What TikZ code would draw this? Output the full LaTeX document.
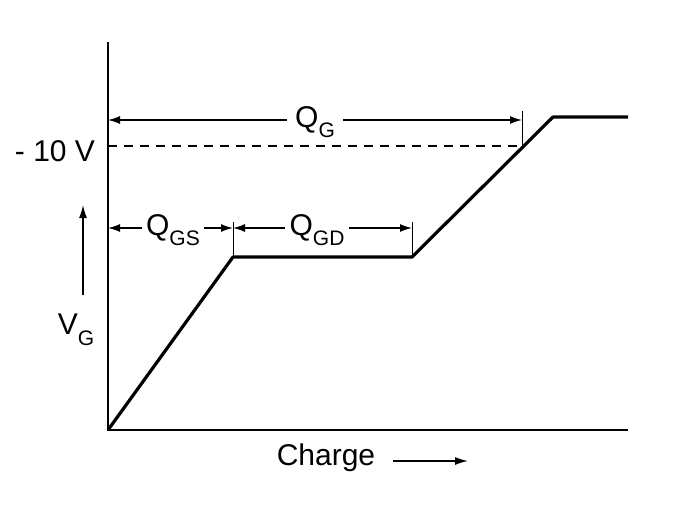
\documentclass[tikz,border=0pt]{standalone}
\usepackage{fontspec}
\setmainfont{Liberation Sans}
\usetikzlibrary{arrows.meta}
\newcommand{\mysub}[1]{\raisebox{-0.35em}{\fontsize{21}{22}\selectfont #1}}
\begin{document}
\begin{tikzpicture}[x=1pt,y=-1pt,
  lbl/.style={fill=white,inner sep=2pt,font=\fontsize{30}{32}\selectfont},
  dim/.style={line width=1.4pt,{Latex[length=12pt,width=8pt]}-{Latex[length=12pt,width=8pt]}},
  tk/.style={line width=1pt}]
\useasboundingbox (0,0) rectangle (683,511);
\coordinate (o) at (108,430);
\coordinate (yt) at (108,42);
\coordinate (xe) at (628,430);
\draw[line width=1.5pt] (yt) -- (o) -- (xe);
\coordinate (a) at (233,257);
\coordinate (b) at (412,257);
\coordinate (c) at (553,117);
\coordinate (d) at (628,117);
\draw[line width=3.2pt,line join=round] (o) -- (a) -- (b) -- (c) -- (d);
\coordinate (dl) at (108,146);
\coordinate (dr) at (522,146);
\draw[dash pattern=on 9pt off 7pt,line width=1.3pt] (dl) -- (dr);
\coordinate (t1) at (522,111); \coordinate (t1b) at (522,146);
\draw[tk] (t1) -- (t1b);
\coordinate (t2) at (233,222); \draw[tk] (t2) -- (a);
\coordinate (t3) at (412,222); \draw[tk] (t3) -- (b);
\coordinate (g1) at (108,120); \coordinate (g2) at (522,120);
\draw[dim] (g1) -- (g2);
\node[lbl,inner xsep=8pt] (qg) at (315,122) {Q\mysub{G}};
\coordinate (s1) at (108,228); \coordinate (s2) at (233,228); \coordinate (s3) at (412,228);
\draw[dim] (s1) -- (s2);
\draw[dim] (s2) -- (s3);
\node[lbl,inner xsep=4pt] (qgs) at (173,230) {Q\mysub{GS}};
\node[lbl,inner xsep=5pt] (qgd) at (317,230) {Q\mysub{GD}};
\node[font=\fontsize{30}{32}\selectfont] (v10) at (55,151) {- 10 V};
\coordinate (va) at (83,295); \coordinate (vb) at (83,205);
\draw[line width=1.4pt,-{Latex[length=13pt,width=8pt]}] (va) -- (vb);
\node[font=\fontsize{30}{32}\selectfont] (vg) at (76,330) {V\mysub{G}};
\node[font=\fontsize{30}{32}\selectfont] (ch) at (326,458) {Charge};
\coordinate (ca) at (393,461); \coordinate (cb) at (468,461);
\draw[line width=1.4pt,-{Latex[length=13pt,width=8pt]}] (ca) -- (cb);
\end{tikzpicture}
\end{document}
